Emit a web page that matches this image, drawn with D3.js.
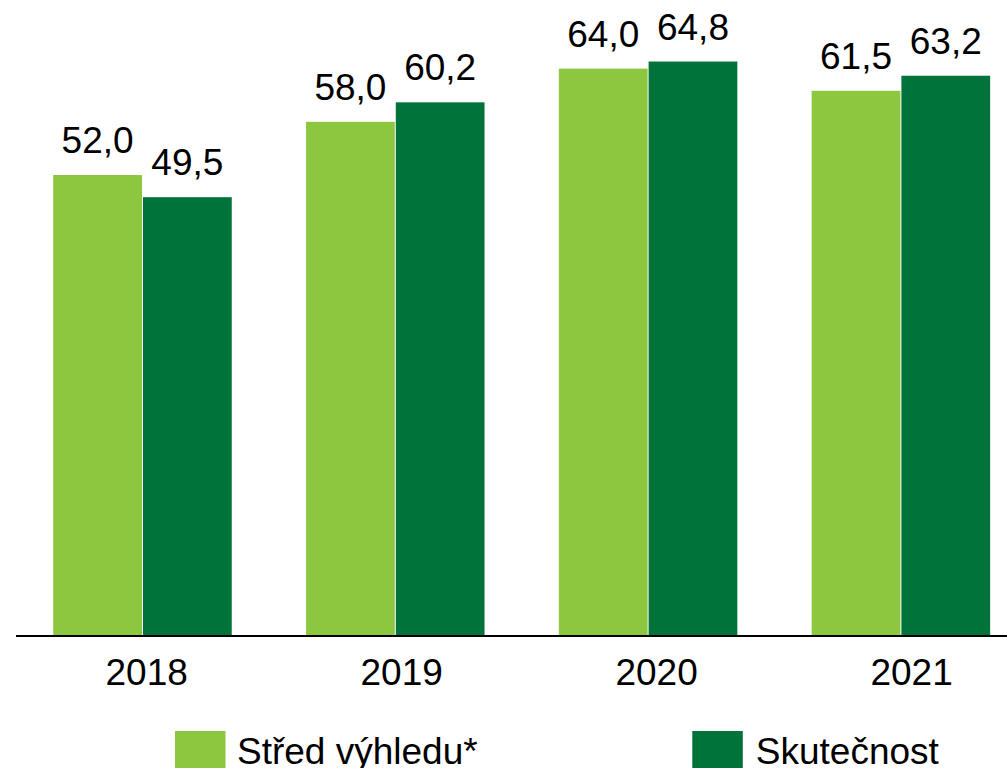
<!DOCTYPE html>
<html>
<head>
<meta charset="utf-8">
<script src="https://cdn.jsdelivr.net/npm/d3@7"></script>
<style>
html,body{margin:0;padding:0;background:#fff;overflow:hidden;}
svg{display:block;font-family:"Liberation Sans",Arial,sans-serif;}
</style>
</head>
<body>
<svg id="chart" width="1007" height="768"></svg>
<script>
const categories = ["2018", "2019", "2020", "2021"];
const seriesNames = ["Střed výhledu*", "Skutečnost"];
const outlookValues = [52.0, 58.0, 64.0, 61.5];
const actualValues = [49.5, 60.2, 64.8, 63.2];
const colors = ["#8DC63F", "#00733A"];

const svg = d3.select("#chart");
const baseY = 636;

const x = d3.scaleBand().domain(categories).range([16.1, 1027.3])
  .paddingInner(0.294).paddingOuter(0.147);
const xi = d3.scaleBand().domain([0, 1]).range([0, x.bandwidth()]).paddingInner(0.011);
const xLabel = d3.scalePoint().domain(categories).range([146.7, 911.6]);
const y = d3.scaleLinear().domain([0, 70]).range([baseY, baseY - 70 * 8.865]);

const data = categories.map((c, i) => ({cat: c, vals: [outlookValues[i], actualValues[i]]}));
const fmt = v => d3.format(".1f")(v).replace(".", ",");

const g = svg.selectAll("g.grp").data(data).join("g")
  .attr("transform", d => `translate(${x(d.cat)},0)`);

g.selectAll("rect").data(d => d.vals.map((v, k) => ({v, k}))).join("rect")
  .attr("x", d => xi(d.k)).attr("width", xi.bandwidth())
  .attr("y", d => y(d.v)).attr("height", d => y(0) - y(d.v))
  .attr("fill", d => colors[d.k]);

g.selectAll("text").data(d => d.vals.map((v, k) => ({v, k}))).join("text")
  .attr("x", d => xi(d.k) + xi.bandwidth() / 2)
  .attr("y", d => y(d.v) - 22)
  .attr("text-anchor", "middle").attr("font-size", 37).attr("fill", "#000")
  .text(d => fmt(d.v));

svg.append("line").attr("x1", 16).attr("x2", 1007).attr("y1", baseY).attr("y2", baseY)
  .attr("stroke", "#000").attr("stroke-width", 2);

svg.selectAll("text.year").data(categories).join("text").attr("class", "year")
  .attr("x", d => xLabel(d)).attr("y", 685)
  .attr("text-anchor", "middle").attr("font-size", 37).attr("fill", "#000")
  .text(d => d);

const legendX = [175, 692.3];
const lg = svg.selectAll("g.leg").data(seriesNames).join("g").attr("class", "leg")
  .attr("transform", (d, i) => `translate(${legendX[i]},731)`);
lg.append("rect").attr("width", 50.5).attr("height", 50).attr("fill", (d, i) => colors[i]);
lg.append("text").attr("x", (d, i) => i === 0 ? 62 : 63.5).attr("y", 32.5)
  .attr("font-size", 37).attr("fill", "#000").text(d => d);
</script>
</body>
</html>
